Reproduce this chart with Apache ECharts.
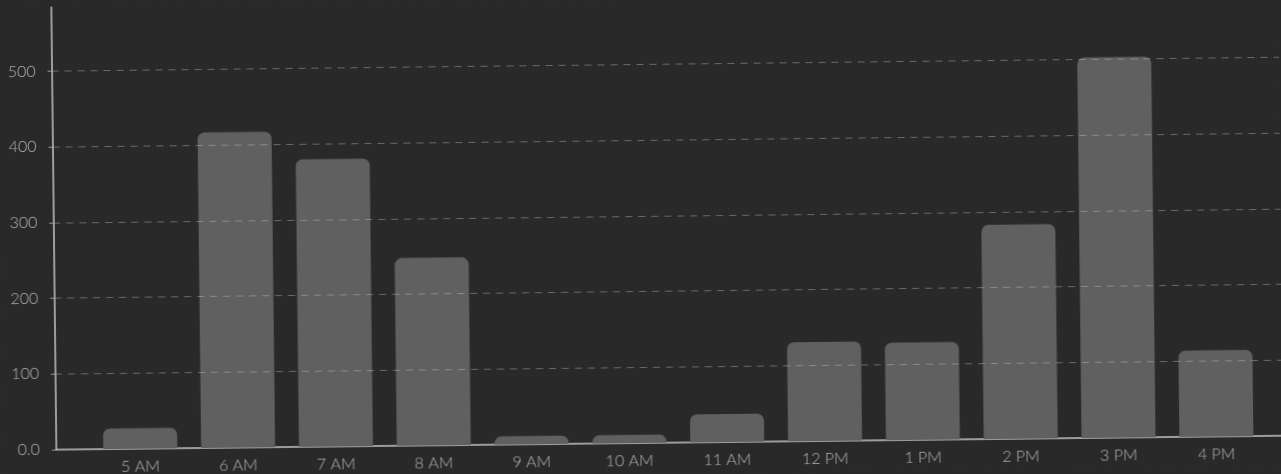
<!DOCTYPE html>
<html>
<head>
<meta charset="utf-8">
<script src="https://cdn.jsdelivr.net/npm/echarts@6/dist/echarts.min.js"></script>
<style>
  html, body { margin: 0; padding: 0; background: #292929; overflow: hidden; }
  #wrap { width: 1281px; height: 474px; transform: rotate(-0.65deg); transform-origin: 640px 237px; }
  #chart { width: 1281px; height: 474px; }
</style>
</head>
<body>
<div id="wrap"><div id="chart"></div></div>
<script>
// 数据
const hours = ['5 AM', '6 AM', '7 AM', '8 AM', '9 AM', '10 AM', '11 AM', '12 PM', '1 PM', '2 PM', '3 PM', '4 PM'];
const counts = [27, 417, 380, 248, 11, 11, 37, 131, 129, 283, 503, 114];
const yTicks = [0, 100, 200, 300, 400, 500];

const chart = echarts.init(document.getElementById('chart'));

const textColor = '#b5b5b5';
const lineColor = '#c4c4c4';

chart.setOption({
  animation: false,
  backgroundColor: '#292929',
  textStyle: { fontFamily: 'Lato' },
  grid: [
    // 轴线 + 网格线
    { left: 53.5, right: -12, top: -11, bottom: 31, outerBoundsMode: 'none', containLabel: false },
    // 柱子
    { left: 89, width: 1174, top: -11, bottom: 31, outerBoundsMode: 'none', containLabel: false }
  ],
  xAxis: [
    {
      gridIndex: 0, type: 'value', min: 0, max: 1,
      axisLine: { show: true, lineStyle: { color: lineColor, width: 1.5 } },
      axisTick: { show: false }, axisLabel: { show: false }, splitLine: { show: false }
    },
    {
      gridIndex: 1, type: 'category', data: hours,
      axisLine: { show: false }, axisTick: { show: false },
      axisLabel: { color: textColor, fontSize: 16, margin: 10, fontFamily: 'Lato', fontWeight: 300 }
    }
  ],
  yAxis: [
    {
      gridIndex: 0, type: 'value', min: 0, max: 600, interval: 100, z: 5,
      axisLine: { show: true, lineStyle: { color: lineColor, width: 1.5 } },
      axisTick: { show: true, length: 4, lineStyle: { color: '#9a9a9a' } },
      axisLabel: {
        color: textColor, fontSize: 16, margin: 16, fontFamily: 'Lato', fontWeight: 300,
        showMaxLabel: false, padding: [5, 0, 0, 0],
        formatter: v => (yTicks.indexOf(v) === 0 ? '0.0' : String(v))
      },
      splitLine: {
        show: true, showMinLine: false, showMaxLine: false,
        lineStyle: { color: 'rgba(210,210,210,0.38)', type: [7, 6], width: 1 }
      }
    },
    {
      gridIndex: 1, type: 'value', min: 0, max: 600, show: false
    }
  ],
  series: [{
    type: 'bar',
    xAxisIndex: 1, yAxisIndex: 1,
    data: counts,
    barWidth: 74,
    itemStyle: { color: '#606060', borderRadius: [7, 7, 0, 0] }
  }]
});
</script>
</body>
</html>
